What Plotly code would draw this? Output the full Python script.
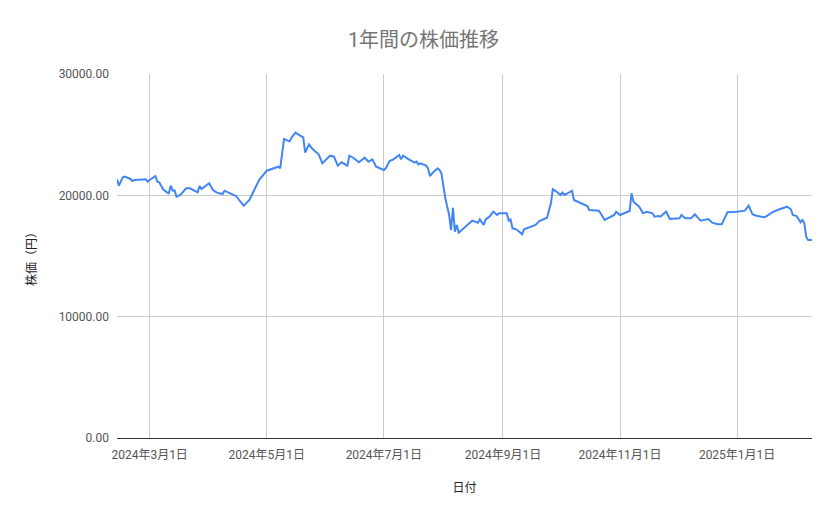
import plotly.graph_objects as go

dates = [
    "2024-02-13", "2024-02-14", "2024-02-16", "2024-02-17", "2024-02-20", "2024-02-21",
    "2024-02-22", "2024-02-28", "2024-02-29", "2024-03-01", "2024-03-04", "2024-03-05",
    "2024-03-06", "2024-03-08", "2024-03-10", "2024-03-11", "2024-03-12", "2024-03-13",
    "2024-03-14", "2024-03-15", "2024-03-17", "2024-03-20", "2024-03-22", "2024-03-26",
    "2024-03-27", "2024-03-28", "2024-04-01", "2024-04-03", "2024-04-05", "2024-04-08",
    "2024-04-09", "2024-04-15", "2024-04-17", "2024-04-19", "2024-04-22", "2024-04-24",
    "2024-04-26", "2024-04-27", "2024-05-01", "2024-05-07", "2024-05-08", "2024-05-10",
    "2024-05-12", "2024-05-13", "2024-05-14", "2024-05-16", "2024-05-18", "2024-05-20",
    "2024-05-21", "2024-05-23", "2024-05-25", "2024-05-28", "2024-05-30", "2024-06-01",
    "2024-06-03", "2024-06-05", "2024-06-07", "2024-06-09", "2024-06-12", "2024-06-13",
    "2024-06-15", "2024-06-18", "2024-06-21", "2024-06-23", "2024-06-25", "2024-06-27",
    "2024-07-01", "2024-07-02", "2024-07-04", "2024-07-06", "2024-07-09", "2024-07-10",
    "2024-07-11", "2024-07-14", "2024-07-17", "2024-07-18", "2024-07-19", "2024-07-20",
    "2024-07-23", "2024-07-24", "2024-07-25", "2024-07-27", "2024-07-29", "2024-07-30",
    "2024-07-31", "2024-08-02", "2024-08-04", "2024-08-05", "2024-08-06", "2024-08-07",
    "2024-08-08", "2024-08-09", "2024-08-12", "2024-08-14", "2024-08-16", "2024-08-19",
    "2024-08-20", "2024-08-22", "2024-08-23", "2024-08-25", "2024-08-27", "2024-08-29",
    "2024-08-30", "2024-09-03", "2024-09-04", "2024-09-05", "2024-09-06", "2024-09-08",
    "2024-09-11", "2024-09-12", "2024-09-15", "2024-09-18", "2024-09-20", "2024-09-24",
    "2024-09-26", "2024-09-27", "2024-09-29", "2024-10-01", "2024-10-02", "2024-10-03",
    "2024-10-04", "2024-10-07", "2024-10-08", "2024-10-10", "2024-10-15", "2024-10-16",
    "2024-10-21", "2024-10-23", "2024-10-24", "2024-10-29", "2024-10-30", "2024-11-01",
    "2024-11-05", "2024-11-06", "2024-11-07", "2024-11-08", "2024-11-11", "2024-11-13",
    "2024-11-15", "2024-11-18", "2024-11-19", "2024-11-21", "2024-11-22", "2024-11-25",
    "2024-11-27", "2024-11-29", "2024-12-02", "2024-12-03", "2024-12-05", "2024-12-08",
    "2024-12-10", "2024-12-11", "2024-12-13", "2024-12-17", "2024-12-19", "2024-12-22",
    "2024-12-24", "2024-12-25", "2024-12-27", "2025-01-01", "2025-01-05", "2025-01-07",
    "2025-01-09", "2025-01-11", "2025-01-15", "2025-01-16", "2025-01-19", "2025-01-22",
    "2025-01-23", "2025-01-26", "2025-01-27", "2025-01-29", "2025-01-30", "2025-02-01",
    "2025-02-02", "2025-02-03", "2025-02-04", "2025-02-05", "2025-02-06", "2025-02-07",
    "2025-02-09",
]

prices = [
    21320, 20800, 21490, 21540, 21350, 21180,
    21260, 21320, 21125, 21264, 21594, 21125,
    21070, 20500, 20250, 20170, 20795, 20383,
    20410, 19890, 20030, 20580, 20580, 20250,
    20770, 20523, 20990, 20440, 20220, 20110,
    20383, 19945, 19533, 19146, 19615, 20300,
    20990, 21264, 22030, 22360, 22226, 24643,
    24505, 24450, 24780, 25165, 24970, 24780,
    23515, 24203, 23795, 23382, 22640, 22970,
    23270, 23187, 22445, 22720, 22445, 23270,
    23100, 22720, 23100, 22775, 22970, 22360,
    22087, 22226, 22830, 22970, 23325, 22970,
    23270, 22970, 22690, 22775, 22555, 22640,
    22445, 22226, 21595, 21950, 22226, 22087,
    21816, 19755, 18380, 17143, 18980, 17005,
    17555, 16923, 17363, 17693, 17912, 17747,
    18023, 17555, 18023, 18240, 18652, 18379,
    18515, 18515, 17912, 18020, 17280, 17197,
    16785, 17197, 17363, 17555, 17885, 18158,
    19343, 20498, 20300, 20030, 20220, 20030,
    20110, 20383, 19615, 19477, 19120, 18790,
    18735, 18240, 17968, 18379, 18652, 18379,
    18652, 18710, 20170, 19477, 19064, 18515,
    18652, 18515, 18240, 18295, 18240, 18652,
    18050, 18050, 18105, 18379, 18105, 18105,
    18437, 18240, 17912, 18050, 17747, 17610,
    17610, 17968, 18600, 18652, 18735, 19146,
    18437, 18323, 18190, 18240, 18570, 18790,
    18850, 19010, 19064, 18850, 18379, 18295,
    18023, 17775, 17968, 17693, 16594, 16320,
    16320,
]

x_tickvals = ["2024-03-01", "2024-05-01", "2024-07-01", "2024-09-01", "2024-11-01", "2025-01-01"]
x_ticktext = ["2024年3月1日", "2024年5月1日", "2024年7月1日", "2024年9月1日", "2024年11月1日", "2025年1月1日"]
y_tickvals = [0, 10000, 20000, 30000]

font_family = "Roboto, 'Noto Sans CJK JP', sans-serif"

fig = go.Figure()
fig.add_trace(go.Scatter(x=dates, y=prices, mode='lines', line=dict(color='#4285F4', width=2), name='株価'))

# the page has an 8px body margin, so the figure is a bit smaller than the window
fig.update_layout(
    width=831, height=511,
    paper_bgcolor='white', plot_bgcolor='white',
    margin=dict(l=109, r=27, t=66, b=81),
    showlegend=False,
    font=dict(family=font_family, size=12, color='#444444'),
    title=dict(text='1年間の株価推移', x=0.5, xanchor='center', y=0.937, yanchor='middle',
               font=dict(size=20, color='#757575', family=font_family)),
)
fig.update_xaxes(
    range=["2024-02-13", "2025-02-09"],
    tickvals=x_tickvals, ticktext=x_ticktext,
    showgrid=True, gridcolor='#cccccc', gridwidth=1,
    showline=False, zeroline=False, ticks='', ticklabelstandoff=8,
    tickfont=dict(size=12, color='#555555'),
    title=dict(text='日付', font=dict(size=12, color='#222222'), standoff=22),
)
fig.update_yaxes(
    range=[0, 30000],
    tickvals=y_tickvals, tickformat='.2f',
    showgrid=True, gridcolor='#cccccc', gridwidth=1,
    zeroline=True, zerolinecolor='#333333', zerolinewidth=1,
    showline=False, ticks='', ticklabelstandoff=7,
    tickfont=dict(size=12, color='#555555'),
    title=dict(text='株価（円）', font=dict(size=12, color='#222222'), standoff=19),
)

fig.write_html("out.html")
